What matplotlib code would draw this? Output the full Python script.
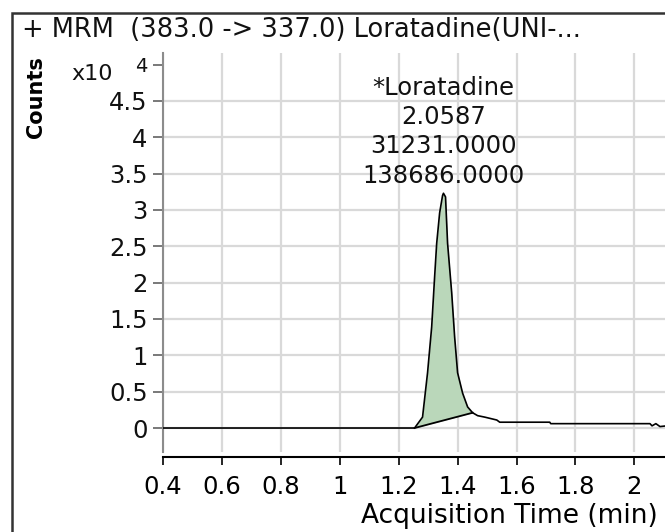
"""Agilent-style MRM chromatogram for loratadine (383.0 -> 337.0)."""

import matplotlib.pyplot as plt
import numpy as np
from matplotlib.patches import Rectangle

# chromatogram trace, counts in units of 10^4
time_min = [0.40, 1.254, 1.281, 1.298, 1.312, 1.322, 1.329, 1.339, 1.349, 1.352,
            1.359, 1.366, 1.380, 1.390, 1.400, 1.417, 1.434, 1.451, 1.468, 1.492,
            1.533, 1.543, 1.713, 1.716, 2.053, 2.060, 2.073, 2.087, 2.11]
counts_e4 = [0.00, 0.00, 0.15, 0.76, 1.39, 2.08, 2.54, 2.96, 3.20, 3.23,
             3.18, 2.54, 1.86, 1.25, 0.76, 0.48, 0.29, 0.21, 0.17, 0.15,
             0.11, 0.08, 0.08, 0.06, 0.06, 0.03, 0.06, 0.02, 0.03]

# integration limits (start / end of the peak baseline)
peak_start = (1.254, 0.00)
peak_end = (1.451, 0.21)

peak_label = ["*Loratadine", "2.0587", "31231.0000", "138686.0000"]
title = "+ MRM  (383.0 -> 337.0) Loratadine(UNI-..."

x_ticks = [0.4, 0.6, 0.8, 1.0, 1.2, 1.4, 1.6, 1.8, 2.0]
x_tick_labels = ["0.4", "0.6", "0.8", "1", "1.2", "1.4", "1.6", "1.8", "2"]
y_ticks = [0, 0.5, 1, 1.5, 2, 2.5, 3, 3.5, 4, 4.5, 5.0]
y_tick_labels = ["0", "0.5", "1", "1.5", "2", "2.5", "3", "3.5", "4", "4.5", "4"]


def main() -> None:
    fig = plt.figure(figsize=(6.65, 5.32), dpi=100)
    ax = fig.add_axes([163 / 665, 80 / 532, 502 / 665, 399 / 532])

    t = np.array(time_min)
    c = np.array(counts_e4)

    # shaded integrated area between trace and drawn baseline
    in_peak = (t >= peak_start[0]) & (t <= peak_end[0])
    base = np.interp(t[in_peak], [peak_start[0], peak_end[0]], [peak_start[1], peak_end[1]])
    ax.fill_between(t[in_peak], base, c[in_peak], color="#bad7ba", lw=0, zorder=2)
    ax.plot([peak_start[0], peak_end[0]], [peak_start[1], peak_end[1]],
            color="black", lw=1.3, zorder=3)
    ax.plot(t, c, color="black", lw=1.2, zorder=3)

    peak_i = int(np.argmax(c))
    ax.annotate("\n".join(peak_label), xy=(t[peak_i], c[peak_i]), xytext=(0, 4),
                textcoords="offset points", ha="center", va="bottom",
                fontsize=17.5, linespacing=1.28, color="#111111")

    ax.set_xlim(0.4, 2.104)
    ax.set_ylim(-0.33, 5.16)
    ax.set_xticks(x_ticks, x_tick_labels)
    ax.set_yticks(y_ticks, y_tick_labels)
    ax.grid(True, color="#d9d9d9", lw=1.6, zorder=0)
    ax.yaxis.get_gridlines()[-1].set_visible(False)
    ax.set_axisbelow(True)

    ax.tick_params(axis="x", direction="out", length=6, width=1.2, pad=7,
                   labelsize=17.5, colors="black")
    ax.tick_params(axis="y", direction="out", length=7, width=1.1, pad=4,
                   labelsize=17.5, color="#555555", labelcolor="#111111")
    ax.get_yticklabels()[-1].set_fontsize(14)

    for side in ("top", "right"):
        ax.spines[side].set_visible(False)
    ax.spines["left"].set_color("#8c8c8c")
    ax.spines["left"].set_linewidth(1.5)
    ax.spines["bottom"].set_color("black")
    ax.spines["bottom"].set_linewidth(1.5)
    ax.spines["bottom"].set_position(("outward", 3.6))

    ax.set_xlabel("Acquisition Time (min)", fontsize=19, ha="right", va="center")
    ax.xaxis.set_label_coords((658 - 163) / 502, -(516 - 452) / 399)
    ax.set_ylabel("Counts", fontsize=15, fontweight="bold", va="center")
    ax.yaxis.set_label_coords((36 - 163) / 502, (452 - 97) / 399)

    fig.text(92 / 665, 1 - 74 / 532, "x10", fontsize=16, ha="center", va="center",
             color="#111111")
    fig.text(22 / 665, 1 - 30 / 532, title, fontsize=18.5, ha="left", va="center",
             color="#111111")
    fig.add_artist(Rectangle((12 / 665, -0.1), 1.0, 1.1 - 13 / 532, transform=fig.transFigure,
                             fill=False, edgecolor="#333333", lw=1.8))

    fig.savefig("out.png", dpi=100)
    plt.close(fig)


if __name__ == "__main__":
    main()
